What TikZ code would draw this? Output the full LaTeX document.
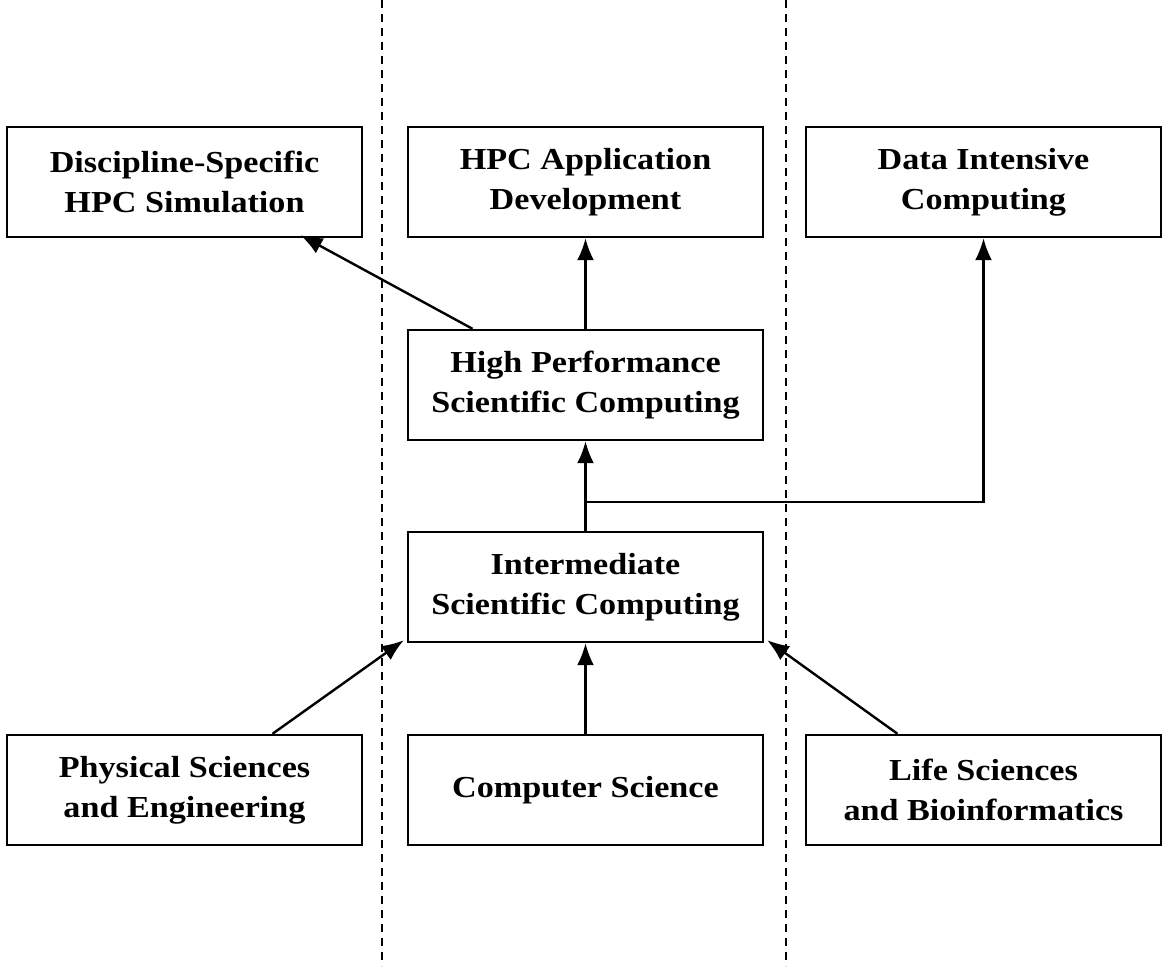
\documentclass[tikz,border=0pt]{standalone}
\usepackage{fontspec}
\setmainfont{Liberation Serif}[FakeStretch=1.12]
\usetikzlibrary{arrows.meta,calc}
\begin{document}
\begin{tikzpicture}[x=1pt,y=-1pt,
  box/.style={draw,line width=2.4pt,minimum width=355pt,minimum height=110pt,align=center,
    font=\fontsize{30.5}{40}\selectfont\bfseries,inner sep=0pt},
  arr/.style={line width=2.4pt,-{Latex[length=22pt,width=17pt]}},
  sep/.style={line width=1.8pt,dash pattern=on 8pt off 6pt}]
\useasboundingbox (0,0) rectangle (1164,966);
\coordinate (d1t) at (382,0); \coordinate (d1b) at (382,966);
\coordinate (d2t) at (786,0); \coordinate (d2b) at (786,966);
\draw[sep] (d1t) -- (d1b);
\draw[sep] (d2t) -- (d2b);
\node[box] (dss) at (184.5,182) {Discipline-Specific\\HPC Simulation};
\node[box] (hpc) at (585.5,182) {HPC Application\\Development};
\node[box] (dic) at (983.5,182) {Data Intensive\\Computing};
\node[box] (hpsc) at (585.5,385) {High Performance\\Scientific Computing};
\node[box] (isc) at (585.5,587) {Intermediate\\Scientific Computing};
\node[box] (phys) at (184.5,790) {Physical Sciences\\and Engineering};
\node[box] (cs) at (585.5,790) {Computer Science};
\node[box] (life) at (983.5,790) {Life Sciences\\and Bioinformatics};
\coordinate (br) at (585.5,502);
\draw[arr] ([xshift=-113pt]hpsc.north) -- ([xshift=116pt,yshift=3pt]dss.south);
\draw[arr] (hpsc.north) -- (hpc.south);
\draw[arr] (isc.north) -- (hpsc.south);
\draw[arr] (br) -| (dic.south);
\draw[arr] ([xshift=88pt]phys.north) -- ([xshift=-3pt,yshift=3pt]isc.south west);
\draw[arr] (cs.north) -- (isc.south);
\draw[arr] ([xshift=-86pt]life.north) -- ([xshift=3pt,yshift=3pt]isc.south east);
\end{tikzpicture}
\end{document}
